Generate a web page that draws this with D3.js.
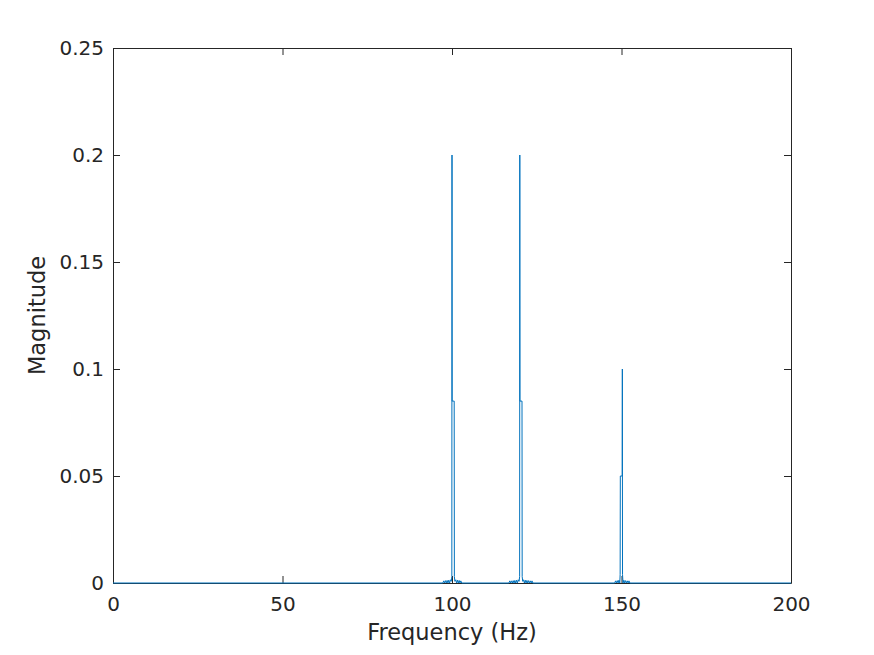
<!DOCTYPE html>
<html>
<head>
<meta charset="utf-8">
<script src="https://cdn.jsdelivr.net/npm/d3@7"></script>
<style>
	body { margin: 0; background: #fff; }
	svg text { font-family: "DejaVu Sans", sans-serif; fill: #262626; }
</style>
</head>
<body>
<script>

// spectrum points (Hz, magnitude)
// peak at 100 Hz
var freqHz = [
	0,
	97.3, 97.55, 97.8, 98.05, 98.3, 98.55, 98.8, 99.05, 99.3, 99.55, 99.8, 99.95, 100.0, 100.05, 100.65, 100.7, 100.85, 101.1, 101.35, 101.6, 101.85, 102.1, 102.35, 102.6, 102.85,
	116.8, 117.05, 117.3, 117.55, 117.8, 118.05, 118.3, 118.55, 118.8, 119.05, 119.3, 119.55, 119.8, 119.95, 120.0, 120.05, 120.65, 120.7, 120.85, 121.1, 121.35, 121.6, 121.85, 122.1, 122.35, 122.6, 122.85, 123.1, 123.35, 123.6, 123.85,
	148.0, 148.25, 148.5, 148.75, 149.0, 149.25, 149.5, 149.6, 149.65, 150.2, 150.25, 150.3, 150.45, 150.7, 150.95, 151.2, 151.45, 151.7, 151.95, 152.2, 152.45,
	200
];
var magnitude = [
	0,
	0, 0.0010, 0, 0.0011, 0, 0.0012, 0, 0.0013, 0, 0.0015, 0.0008, 0.003, 0.2, 0.085, 0.085, 0.003, 0.0008, 0.0015, 0, 0.0013, 0, 0.0012, 0, 0.0010, 0,
	0, 0.0010, 0, 0.0010, 0, 0.0011, 0, 0.0012, 0, 0.0013, 0, 0.0015, 0.0008, 0.003, 0.2, 0.085, 0.085, 0.003, 0.0008, 0.0015, 0, 0.0013, 0, 0.0012, 0, 0.0011, 0, 0.0010, 0, 0.0010, 0,
	0, 0.0010, 0, 0.0011, 0, 0.0013, 0, 0.004, 0.05, 0.05, 0.1, 0.004, 0, 0.0013, 0, 0.0011, 0, 0.0010, 0, 0.0010, 0,
	0
];

var xTicks = [0, 50, 100, 150, 200];
var yTicks = [0, 0.05, 0.1, 0.15, 0.2, 0.25];
var xLabel = "Frequency (Hz)";
var yLabel = "Magnitude";

var width = 874, height = 655;
var margin = {top: 48, right: 83, bottom: 72, left: 113};

var svg = d3.select("body").append("svg")
	.attr("width", width)
	.attr("height", height);

var x = d3.scaleLinear()
	.domain([0, 200])
	.range([margin.left, width - margin.right]);

var y = d3.scaleLinear()
	.domain([0, 0.25])
	.range([height - margin.bottom, margin.top]);

var tickLen = 7;
var axisColor = "#262626";

function styleAxis(g, showText) {
	g.selectAll("path.domain").attr("stroke", axisColor).attr("stroke-width", 1);
	g.selectAll(".tick line").attr("stroke", axisColor).attr("stroke-width", 1);
	g.selectAll(".tick text")
		.style("font-family", "DejaVu Sans, sans-serif")
		.style("font-size", "20px")
		.attr("fill", axisColor);
	if (!showText) g.selectAll(".tick text").remove();
	g.attr("font-family", null).attr("font-size", null);
}

// bottom / top
svg.append("g")
	.attr("transform", "translate(0," + y(0) + ")")
	.call(d3.axisBottom(x).tickValues(xTicks).tickSizeInner(-tickLen).tickSizeOuter(0).tickPadding(14))
	.call(styleAxis, true);

svg.append("g")
	.attr("transform", "translate(0," + y(0.25) + ")")
	.call(d3.axisTop(x).tickValues(xTicks).tickSizeInner(-tickLen).tickSizeOuter(0))
	.call(styleAxis, false);

// left / right
svg.append("g")
	.attr("transform", "translate(" + x(0) + ",0)")
	.call(d3.axisLeft(y).tickValues(yTicks).tickFormat(d3.format("~g")).tickSizeInner(-tickLen).tickSizeOuter(0).tickPadding(9))
	.call(styleAxis, true);

svg.append("g")
	.attr("transform", "translate(" + x(200) + ",0)")
	.call(d3.axisRight(y).tickValues(yTicks).tickSizeInner(-tickLen).tickSizeOuter(0))
	.call(styleAxis, false);

// the spectrum line
var points = freqHz.map(function(f, i) { return [f, magnitude[i]]; });

var line = d3.line()
	.x(function(d) { return x(d[0]); })
	.y(function(d) { return y(d[1]); });

svg.append("path")
	.datum(points)
	.attr("fill", "none")
	.attr("stroke", "#0072BD")
	.attr("stroke-width", 1)
	.attr("d", line);

// labels
svg.append("text")
	.attr("x", (x(0) + x(200)) / 2)
	.attr("y", 640)
	.attr("text-anchor", "middle")
	.style("font-size", "22.5px")
	.text(xLabel);

svg.append("text")
	.attr("transform", "translate(45," + (y(0) + y(0.25)) / 2 + ")rotate(-90)")
	.attr("text-anchor", "middle")
	.style("font-size", "22.5px")
	.text(yLabel);

</script>
</body>
</html>
